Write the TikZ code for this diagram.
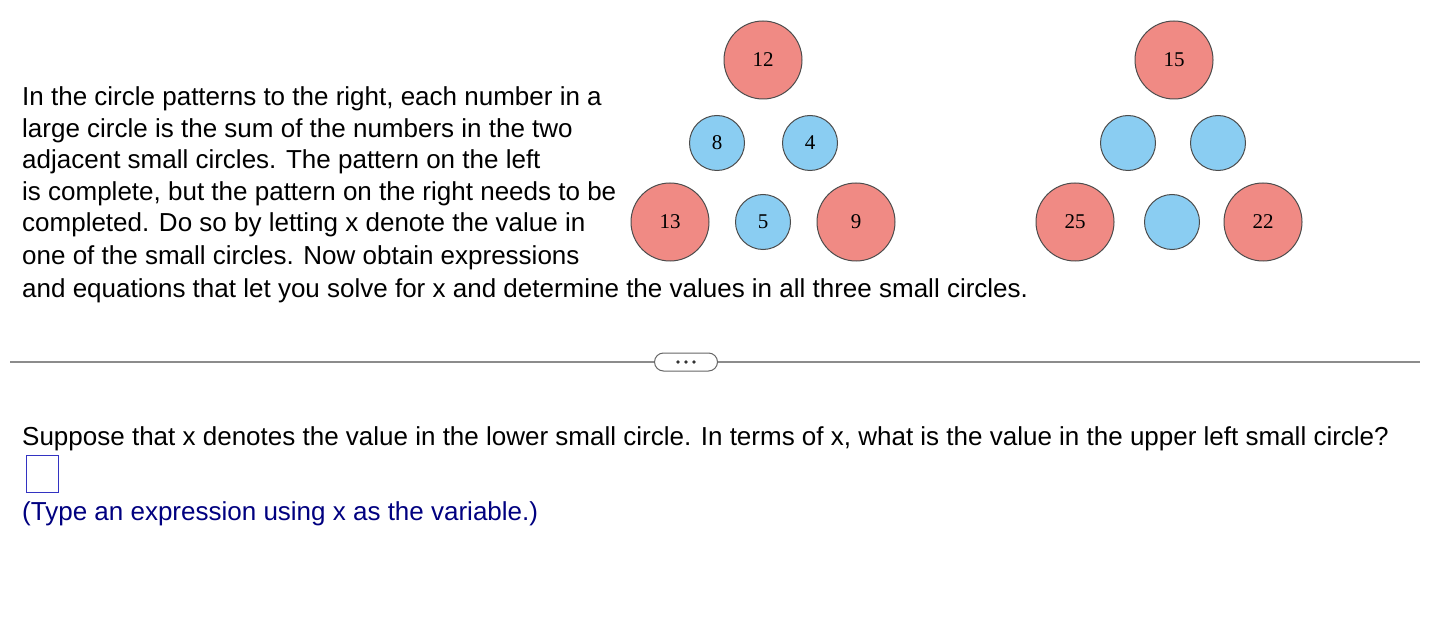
\documentclass[tikz,border=0pt]{standalone}
\usepackage{fontspec}
\setmainfont{Liberation Sans}
\newfontfamily\numfont{Liberation Serif}
\begin{document}
\begin{tikzpicture}[x=1pt,y=-1pt,
  big/.style={circle,draw=black!70,line width=1pt,fill=bigred,minimum size=78pt,inner sep=0pt,font=\numfont\fontsize{21}{21}\selectfont},
  small/.style={circle,draw=black!70,line width=1pt,fill=smallblue,minimum size=55pt,inner sep=0pt,font=\numfont\fontsize{21}{21}\selectfont},
  txt/.style={anchor=base west,inner sep=0pt,font=\fontsize{26}{26}\selectfont}]
\definecolor{bigred}{HTML}{F08A84}
\definecolor{smallblue}{HTML}{8ACDF2}
\definecolor{navy}{HTML}{000080}
\useasboundingbox (0,0) rectangle (1432,644);
\fill[white] (0,0) rectangle (1432,644);
\node[big] (a12) at (763,60) {12};
\node[small] (a8) at (717,143) {8};
\node[small] (a4) at (810,143) {4};
\node[big] (a13) at (670,222) {13};
\node[small] (a5) at (763,222) {5};
\node[big] (a9) at (856,222) {9};
\node[big] (b15) at (1174,60) {15};
\node[small] (b1) at (1128,143) {};
\node[small] (b2) at (1218,143) {};
\node[big] (b25) at (1075,222) {25};
\node[small] (b3) at (1172,222) {};
\node[big] (b22) at (1263,222) {22};
\node[txt] (l1) at (22,106) {In the circle patterns to the right, each number in a};
\node[txt] (l2) at (22,138) {large circle is the sum of the numbers in the two};
\node[txt] (l3) at (22,169) {adjacent small circles. The pattern on the left};
\node[txt] (l4) at (22,201) {is complete, but the pattern on the right needs to be};
\node[txt] (l5) at (22,232) {completed. Do so by letting x denote the value in};
\node[txt] (l6) at (22,265) {one of the small circles. Now obtain expressions};
\node[txt] (l7) at (22,298) {and equations that let you solve for x and determine the values in all three small circles.};
\draw[black!45,line width=1.2pt] (10,362) -- (1420,362);
\node[draw=black!60,fill=white,rounded corners=9pt,minimum width=63pt,minimum height=18pt,inner sep=0pt,line width=1pt] (pill) at (686,362) {};
\foreach \i in {-8,0,8} \fill[black!80] ([xshift=\i pt]pill.center) circle (1.8pt);
\node[txt] (q) at (22,445) {Suppose that x denotes the value in the lower small circle. In terms of x, what is the value in the upper left small circle?};
\draw[blue!70!black!80,line width=1pt] (26,455) rectangle (58,492);
\node[txt,text=navy] (h) at (22,520) {(Type an expression using x as the variable.)};
\end{tikzpicture}
\end{document}
